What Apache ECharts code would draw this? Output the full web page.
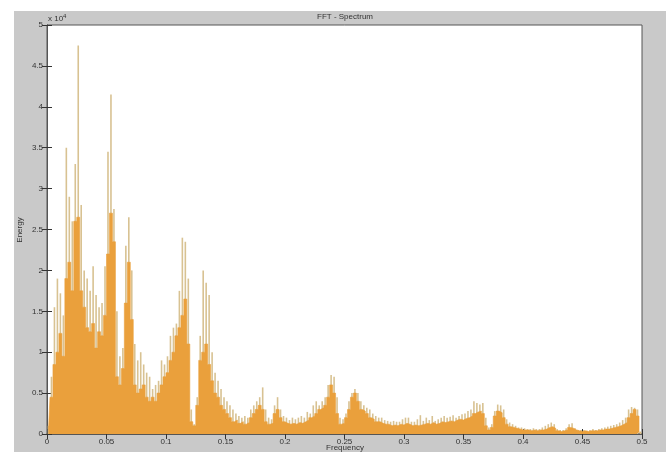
<!DOCTYPE html>
<html><head><meta charset="utf-8">
<script src="https://cdn.jsdelivr.net/npm/echarts@6/dist/echarts.min.js"></script>
<style>html,body{margin:0;padding:0;background:#fff}#c{position:absolute;left:14px;top:11px;width:652px;height:441px;background:#c9c9c9}</style>
</head><body><div id="c"></div>
<script>
// Frequency bins (width 0.0025, 0 .. 0.5), energy in units of 1e4
const binWidth = 0.0025;
const energyBody = [
0.05,0.45,0.85,1.0,1.23,0.95,1.9,2.1,1.75,2.6,
2.65,1.75,1.55,1.3,1.25,1.35,1.05,1.25,1.2,1.45,
2.2,2.7,2.35,0.7,0.6,0.8,1.6,2.1,1.4,0.6,
0.5,0.55,0.6,0.45,0.4,0.45,0.4,0.5,0.6,0.7,
0.75,0.9,1.0,1.2,1.3,1.45,1.65,1.1,0.15,0.1,
0.35,0.9,1.0,1.1,0.85,0.65,0.5,0.45,0.35,0.3,
0.25,0.2,0.15,0.17,0.13,0.15,0.12,0.14,0.2,0.25,
0.3,0.35,0.3,0.15,0.12,0.13,0.25,0.3,0.2,0.15,
0.13,0.12,0.13,0.12,0.14,0.13,0.15,0.17,0.2,0.22,
0.25,0.3,0.32,0.35,0.45,0.6,0.5,0.25,0.12,0.13,
0.2,0.3,0.45,0.5,0.4,0.3,0.28,0.25,0.2,0.18,
0.15,0.15,0.13,0.12,0.12,0.1,0.11,0.1,0.12,0.11,
0.13,0.12,0.1,0.11,0.1,0.11,0.12,0.13,0.12,0.14,
0.12,0.13,0.15,0.14,0.15,0.16,0.15,0.17,0.18,0.17,
0.19,0.2,0.22,0.25,0.27,0.28,0.25,0.1,0.05,0.08,
0.22,0.28,0.26,0.2,0.12,0.09,0.08,0.07,0.06,0.05,
0.05,0.05,0.04,0.05,0.04,0.05,0.05,0.06,0.08,0.09,
0.07,0.04,0.03,0.04,0.05,0.08,0.07,0.05,0.04,0.03,
0.04,0.03,0.04,0.04,0.04,0.05,0.05,0.06,0.06,0.07,
0.08,0.09,0.1,0.12,0.14,0.2,0.25,0.3,0.22,0.02
];
const energyPeak = [
0.1,0.7,1.55,1.9,1.72,1.45,3.5,2.9,2.6,3.3,
4.75,2.8,2.0,1.9,1.75,2.05,1.7,1.55,1.6,2.05,
3.45,4.15,2.75,1.5,0.95,1.05,2.3,2.65,2.0,1.1,
0.9,1.0,0.85,0.75,0.7,0.55,0.6,0.65,0.9,0.85,
0.95,1.2,1.3,1.35,1.75,2.4,2.35,1.9,0.3,0.12,
0.45,1.2,2.0,1.85,1.7,1.0,0.75,0.65,0.55,0.45,
0.4,0.35,0.3,0.25,0.22,0.2,0.22,0.2,0.3,0.35,
0.4,0.45,0.57,0.3,0.2,0.18,0.35,0.45,0.3,0.22,
0.2,0.17,0.2,0.18,0.2,0.22,0.2,0.27,0.25,0.35,
0.4,0.35,0.4,0.45,0.6,0.72,0.7,0.45,0.2,0.18,
0.25,0.4,0.5,0.55,0.5,0.4,0.35,0.32,0.3,0.25,
0.22,0.2,0.2,0.17,0.16,0.15,0.16,0.15,0.15,0.18,
0.2,0.2,0.15,0.15,0.18,0.23,0.16,0.2,0.17,0.22,
0.16,0.18,0.2,0.22,0.2,0.21,0.23,0.2,0.22,0.24,
0.25,0.28,0.3,0.4,0.38,0.36,0.38,0.2,0.08,0.12,
0.28,0.36,0.35,0.3,0.18,0.14,0.12,0.1,0.08,0.08,
0.07,0.06,0.06,0.07,0.06,0.06,0.08,0.1,0.12,0.14,
0.12,0.06,0.05,0.05,0.07,0.12,0.13,0.07,0.05,0.05,
0.05,0.04,0.05,0.06,0.05,0.06,0.07,0.08,0.09,0.1,
0.11,0.12,0.14,0.17,0.2,0.3,0.33,0.32,0.3,0.03
];
const titleText = 'FFT - Spectrum';
const xName = 'Frequency';
const yName = 'Energy';

const freqs = energyBody.map((_, i) => +(i * binWidth + binWidth / 2).toFixed(5));
const bodyData = freqs.map((f, i) => [f, energyBody[i]]);
const peakData = freqs.map((f, i) => [f, energyPeak[i]]);

const FONT = '"Liberation Sans", Arial, sans-serif';
const BODY = '#eaa03c';
const chart = echarts.init(document.getElementById('c'));
const axisCommon = {
  type: 'value', min: 0, splitLine: {show: false},
  axisTick: {inside: true, length: 5, lineStyle: {color: '#333'}},
  axisLine: {show: true, lineStyle: {color: '#555'}}
};
chart.setOption({
  animation: false,
  backgroundColor: '#c9c9c9',
  grid: {left: 33, top: 14, right: 24, bottom: 18, show: true, backgroundColor: '#fff', borderColor: '#555', borderWidth: 1},
  xAxis: [
    Object.assign({}, axisCommon, {max: 0.5, interval: 0.05, position: 'bottom',
      axisLine: {show: true, lineStyle: {color: '#7a6c5a', width: 1.5}},
      axisLabel: {fontSize: 8, color: '#333', margin: 4, fontFamily: FONT}}),
    Object.assign({}, axisCommon, {max: 0.5, interval: 0.05, position: 'top', axisLabel: {show: false}})
  ],
  yAxis: [
    Object.assign({}, axisCommon, {max: 5, interval: 0.5, position: 'left',
      axisLabel: {fontSize: 8, color: '#333', margin: 4, fontFamily: FONT}}),
    Object.assign({}, axisCommon, {max: 5, interval: 0.5, position: 'right', axisLabel: {show: false}})
  ],
  series: [
    {type: 'bar', name: 'peak', xAxisIndex: 1, yAxisIndex: 0, data: peakData, barWidth: 1.6,
     itemStyle: {color: '#d8c292'}, z: 1, silent: true},
    {type: 'line', name: 'body', xAxisIndex: 0, yAxisIndex: 0, data: bodyData, step: 'middle',
     symbol: 'none', lineStyle: {width: 0.6, color: BODY}, areaStyle: {color: BODY, opacity: 1},
     z: 2, silent: true}
  ],
  graphic: [
    {type: 'text', x: 331, y: 6, style: {text: titleText, font: '8px ' + FONT, fill: '#333', textAlign: 'center', textVerticalAlign: 'middle'}},
    {type: 'text', x: 331, y: 437, style: {text: xName, font: '8px ' + FONT, fill: '#333', textAlign: 'center', textVerticalAlign: 'middle'}},
    {type: 'text', x: 6, y: 219, rotation: Math.PI / 2, style: {text: yName, font: '8px ' + FONT, fill: '#333', textAlign: 'center', textVerticalAlign: 'middle'}},
    {type: 'text', x: 34, y: 8, style: {text: 'x 10{s|4}', font: '8px ' + FONT, fill: '#333', textVerticalAlign: 'middle',
      rich: {s: {fontSize: 6, verticalAlign: 'top', padding: [0, 0, 5, 0]}}}}
  ]
});
</script></body></html>
